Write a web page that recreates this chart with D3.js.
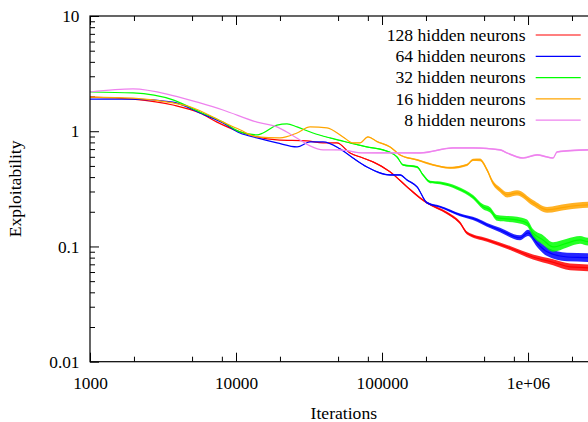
<!DOCTYPE html>
<html>
<head>
<meta charset="utf-8">
<script src="https://cdn.jsdelivr.net/npm/d3@7"></script>
<style>
  body { margin: 0; background: white; }
  svg { display: block; }
</style>
</head>
<body>
<div id="chart"></div>
<script>
// Data: [iterations, exploitability, noise spread (x/÷ factor)]
let neurons128 = [
  [1000, 1.98, 1], [1970, 1.90, 1], [3700, 1.69, 1], [5660, 1.44, 1], [7410, 1.20, 1],
  [10640, 0.986, 1], [13930, 0.893, 1], [19100, 0.841, 1], [30630, 0.824, 1], [39440, 0.792, 1],
  [49180, 0.792, 1.005], [60370, 0.648, 1.008], [74070, 0.586, 1.01], [86710, 0.542, 1.012],
  [113500, 0.444, 1.015], [148300, 0.329, 1.018], [182100, 0.264, 1.02], [203300, 0.239, 1.02],
  [278800, 0.195, 1.025], [342300, 0.160, 1.028], [382200, 0.131, 1.03], [523900, 0.114, 1.035],
  [753000, 0.097, 1.04], [1081000, 0.081, 1.05], [1483000, 0.073, 1.06], [1940000, 0.0665, 1.07],
  [2575000, 0.0652, 1.07], [2970000, 0.064, 1.07]
]
let neurons64 = [
  [1000, 1.90, 1], [1970, 1.90, 1], [3700, 1.79, 1], [5660, 1.44, 1], [8140, 1.18, 1],
  [10640, 0.966, 1], [13930, 0.875, 1], [19100, 0.792, 1], [26180, 0.731, 1], [32140, 0.808, 1],
  [39440, 0.808, 1], [51550, 0.703, 1.005], [63270, 0.586, 1.008], [78880, 0.490, 1.01],
  [113500, 0.418, 1.015], [132800, 0.418, 1.015], [148300, 0.378, 1.015], [173800, 0.329, 1.018],
  [203300, 0.239, 1.02], [249600, 0.221, 1.02], [342300, 0.188, 1.028], [447600, 0.170, 1.035],
  [523900, 0.154, 1.04], [643100, 0.139, 1.045], [881500, 0.119, 1.05], [1000000, 0.131, 1.065],
  [1153000, 0.107, 1.08], [1350000, 0.090, 1.09], [1849000, 0.081, 1.09], [2575000, 0.080, 1.09],
  [2970000, 0.079, 1.09]
]
let neurons32 = [
  [1000, 2.19, 1], [1970, 2.15, 1], [3700, 1.87, 1], [5660, 1.47, 1], [8140, 1.20, 1],
  [10640, 0.986, 1], [13930, 0.929, 1], [15310, 0.966, 1], [19100, 1.13, 1], [22340, 1.16, 1],
  [26180, 1.09, 1], [33660, 0.966, 1], [44030, 0.875, 1.005], [60370, 0.792, 1.008],
  [78880, 0.731, 1.01], [101600, 0.689, 1.012], [126700, 0.598, 1.015], [139200, 0.511, 1.018],
  [173800, 0.490, 1.02], [190800, 0.418, 1.022], [213200, 0.363, 1.025], [249600, 0.356, 1.028],
  [326500, 0.322, 1.035], [420100, 0.269, 1.04], [491800, 0.221, 1.05], [549500, 0.208, 1.055],
  [613700, 0.177, 1.06], [841000, 0.170, 1.065], [984000, 0.160, 1.07], [1081000, 0.131, 1.08],
  [1267000, 0.114, 1.1], [1483000, 0.099, 1.1], [1849000, 0.107, 1.09], [2271000, 0.114, 1.08],
  [2575000, 0.110, 1.08], [2970000, 0.110, 1.08]
]
let neurons16 = [
  [1000, 1.98, 1], [1970, 1.94, 1], [3700, 1.76, 1], [4840, 1.63, 1], [8140, 1.20, 1],
  [10640, 1.03, 1], [13930, 0.893, 1], [20000, 0.875, 1], [26180, 0.966, 1], [32140, 1.09, 1],
  [42000, 1.07, 1], [54060, 0.893, 1.005], [63270, 0.792, 1.006], [70630, 0.792, 1.007],
  [80150, 0.893, 1.008], [92400, 0.813, 1.01], [113500, 0.731, 1.012], [132800, 0.623, 1.014],
  [173800, 0.564, 1.016], [223500, 0.511, 1.018], [292200, 0.481, 1.02], [382200, 0.511, 1.022],
  [420100, 0.564, 1.024], [469000, 0.564, 1.026], [523900, 0.462, 1.035], [575800, 0.356, 1.045],
  [643100, 0.310, 1.05], [718000, 0.281, 1.055], [841000, 0.292, 1.055], [1081000, 0.239, 1.06],
  [1350000, 0.208, 1.06], [1849000, 0.221, 1.06], [2575000, 0.230, 1.06], [2970000, 0.230, 1.06]
]
let neurons8 = [
  [1000, 2.19, 1], [1970, 2.33, 1], [3700, 2.04, 1], [5660, 1.76, 1], [8140, 1.53, 1],
  [13930, 1.20, 1], [19100, 1.09, 1], [23440, 0.948, 1], [27420, 0.841, 1], [32140, 0.746, 1],
  [39440, 0.689, 1], [51550, 0.689, 1.005], [74070, 0.648, 1.008], [113500, 0.648, 1.012],
  [182100, 0.648, 1.014], [306300, 0.716, 1.016], [420100, 0.716, 1.016], [643100, 0.689, 1.016],
  [718000, 0.648, 1.016], [924000, 0.586, 1.016], [1153000, 0.623, 1.016], [1350000, 0.598, 1.016],
  [1483000, 0.586, 1.016], [1581000, 0.661, 1.016], [1940000, 0.679, 1.016], [2575000, 0.689, 1.016],
  [2970000, 0.689, 1.016]
]

let seriesData = [neurons128, neurons64, neurons32, neurons16, neurons8]
let seriesNames = ['128 hidden neurons', '64 hidden neurons', '32 hidden neurons', '16 hidden neurons', '8 hidden neurons']
let seriesColors = ['#ff0000', '#0000ff', '#00ff00', '#ffa500', '#ee82ee']

let xDomain = [1000, 3000000]
let yDomain = [0.01, 10]
let xTickValues = [1000, 10000, 100000, 1000000]
let xTickLabels = ['1000', '10000', '100000', '1e+06']
let xMinorSteps = [2, 5, 8]
let yTickValues = [0.01, 0.1, 1, 10]
let yTickLabels = ['0.01', '0.1', '1', '10']
let yMinorSteps = [2, 3, 4, 5, 6, 7, 8, 9]

// Layout
let chart = {
  width: 588,
  height: 422,
  left: 90,
  top: 16,
  right: 597.7,
  bottom: 361.7,
  font: "'Liberation Serif', 'Times New Roman', serif"
}

chart.svg = d3.select('#chart')
  .append('svg')
  .attr('width', chart.width)
  .attr('height', chart.height)
  .style('font-family', chart.font)

let x = d3.scaleLog().domain(xDomain).range([chart.left, chart.right])
let y = d3.scaleLog().domain(yDomain).range([chart.bottom, chart.top])

function minorTicks(majors, steps, domain) {
  let out = []
  majors.forEach(function (m) {
    steps.forEach(function (s) {
      let v = m * s
      if (v > domain[0] && v < domain[1]) out.push(v)
    })
  })
  return out
}

let xMinor = minorTicks(xTickValues, xMinorSteps, xDomain)
let yMinor = minorTicks(yTickValues, yMinorSteps, yDomain)

// Axes (ticks point inward, like gnuplot)
function styleAxis(g) {
  g.select('.domain').remove()
  g.attr('font-family', chart.font).attr('font-size', 17.3)
  g.selectAll('.tick line').attr('stroke', '#000')
  g.selectAll('.tick text').attr('fill', '#000')
}

chart.svg.append('g')
  .attr('transform', `translate(0,${chart.bottom})`)
  .call(d3.axisBottom(x).tickValues(xTickValues)
    .tickFormat((d, i) => xTickLabels[i]).tickSizeInner(-9).tickSizeOuter(0).tickPadding(15))
  .call(styleAxis)

chart.svg.append('g')
  .attr('transform', `translate(0,${chart.bottom})`)
  .call(d3.axisBottom(x).tickValues(xMinor).tickFormat('').tickSizeInner(-5).tickSizeOuter(0))
  .call(styleAxis)

chart.svg.append('g')
  .attr('transform', `translate(0,${chart.top})`)
  .call(d3.axisTop(x).tickValues(xTickValues).tickFormat('').tickSizeInner(-9).tickSizeOuter(0))
  .call(styleAxis)

chart.svg.append('g')
  .attr('transform', `translate(0,${chart.top})`)
  .call(d3.axisTop(x).tickValues(xMinor).tickFormat('').tickSizeInner(-5).tickSizeOuter(0))
  .call(styleAxis)

chart.svg.append('g')
  .attr('transform', `translate(${chart.left},0)`)
  .call(d3.axisLeft(y).tickValues(yTickValues)
    .tickFormat((d, i) => yTickLabels[i]).tickSizeInner(-9).tickSizeOuter(0).tickPadding(10.5))
  .call(styleAxis)

chart.svg.append('g')
  .attr('transform', `translate(${chart.left},0)`)
  .call(d3.axisLeft(y).tickValues(yMinor).tickFormat('').tickSizeInner(-5).tickSizeOuter(0))
  .call(styleAxis)

chart.svg.append('g')
  .attr('transform', `translate(${chart.right},0)`)
  .call(d3.axisRight(y).tickValues(yTickValues).tickFormat('').tickSizeInner(-9).tickSizeOuter(0))
  .call(styleAxis)

// Series
chart.svg.append('clipPath')
  .attr('id', 'plot-clip')
  .append('rect')
  .attr('x', chart.left)
  .attr('y', chart.top)
  .attr('width', chart.right - chart.left)
  .attr('height', chart.bottom - chart.top)

let plot = chart.svg.append('g').attr('clip-path', 'url(#plot-clip)')

let band = d3.area()
  .x(d => x(d[0]))
  .y0(d => y(d[1] / d[2]))
  .y1(d => y(d[1] * d[2]))
  .curve(d3.curveMonotoneX)

let line = d3.line()
  .x(d => x(d[0]))
  .y(d => y(d[1]))
  .curve(d3.curveMonotoneX)

seriesData.forEach(function (data, i) {
  plot.append('path')
    .attr('class', 'noise-band')
    .attr('d', band(data))
    .attr('fill', seriesColors[i])
    .attr('fill-opacity', 0.85)
  plot.append('path')
    .attr('class', 'series-line')
    .attr('d', line(data))
    .attr('fill', 'none')
    .attr('stroke', seriesColors[i])
    .attr('stroke-width', 1.2)
})

// Border
chart.svg.append('rect')
  .attr('x', chart.left)
  .attr('y', chart.top)
  .attr('width', chart.right - chart.left)
  .attr('height', chart.bottom - chart.top)
  .attr('fill', 'none')
  .attr('stroke', '#000')
  .attr('stroke-width', 1.2)

// Legend
let legend = chart.svg.append('g')
  .attr('font-size', 17.6)

seriesNames.forEach(function (name, i) {
  let rowY = 35 + i * 21.3
  legend.append('text')
    .attr('x', 525.5)
    .attr('y', rowY)
    .attr('dy', '0.32em')
    .attr('text-anchor', 'end')
    .attr('fill', '#000')
    .text(name)
  legend.append('line')
    .attr('x1', 535.7)
    .attr('x2', 580.7)
    .attr('y1', rowY)
    .attr('y2', rowY)
    .attr('stroke', seriesColors[i])
    .attr('stroke-width', 1.2)
})

// Axis titles
chart.svg.append('text')
  .attr('x', (chart.left + chart.right) / 2)
  .attr('y', 419)
  .attr('text-anchor', 'middle')
  .attr('font-size', 17.6)
  .text('Iterations')

chart.svg.append('text')
  .attr('transform', `translate(21,${(chart.top + chart.bottom) / 2}) rotate(-90)`)
  .attr('text-anchor', 'middle')
  .attr('font-size', 17.6)
  .text('Exploitability')
</script>
</body>
</html>
